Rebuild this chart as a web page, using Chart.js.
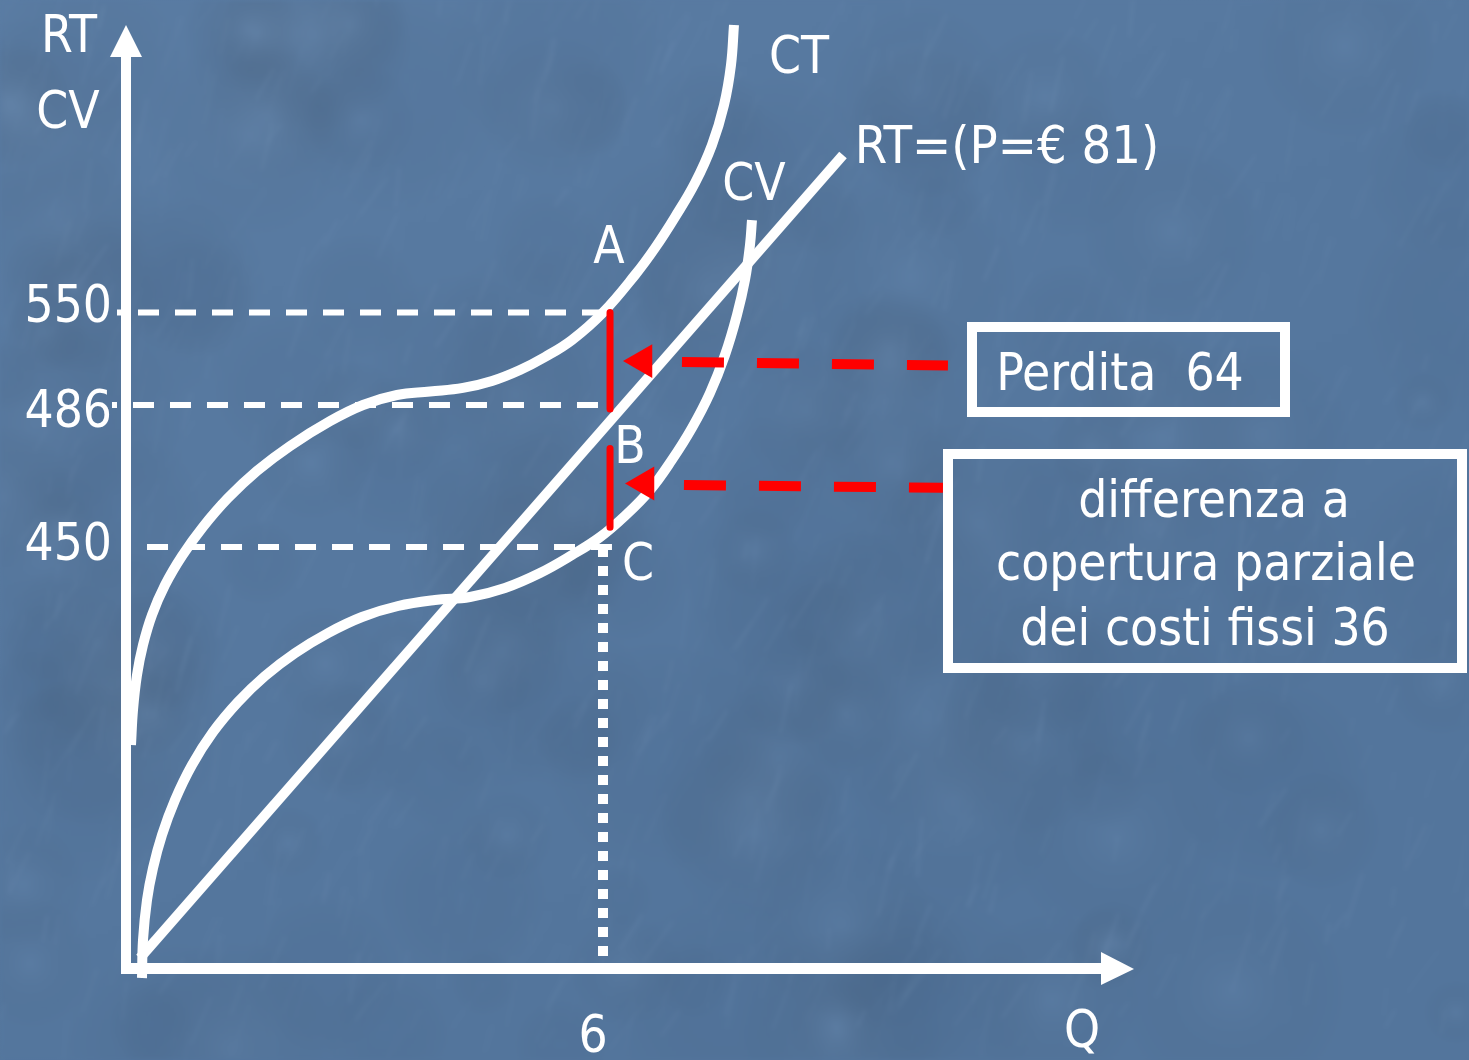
<!DOCTYPE html>
<html>
<head>
<meta charset="utf-8">
<title>RT, CT, CV</title>
<script src="https://cdn.jsdelivr.net/npm/chart.js@4/dist/chart.umd.min.js"></script>
<style>
  html, body { margin: 0; padding: 0; background: #55779f; overflow: hidden; }
  canvas { display: block; }
</style>
</head>
<body>
<canvas id="chart" width="1469" height="1060"></canvas>
<script>
// ---- Axis ticks ----
const quantityTicks = [6];
const valueTicks = [450, 486, 550];
const valueTickLabels = ['450', '486', '550'];

// ---- Total cost CT ----
const ctQ = [-0.1166, -0.0907, -0.0389, 0.0389, 0.1555, 0.3240, 0.5443, 0.8164, 1.1403, 1.5161,
             1.9438, 2.4621, 2.8897, 3.3303, 3.7579, 4.1856, 4.5614, 4.9242, 5.2482, 5.5981, 6.0,
             6.4144, 6.6736, 6.9328, 7.1919, 7.4122, 7.5677, 7.6584, 7.6973];
const ctV = [233.2, 271.5, 309.9, 342.7, 375.6, 408.4, 440.2, 455.1, 462.4, 469.3,
             475.6, 481.9, 486.0, 492.9, 495.3, 497.8, 502.6, 510.2, 519.2, 531.0, 550,
             582.6, 606.1, 633.0, 662.6, 695.7, 730.4, 765.2, 800];

// ---- Variable cost CV ----
const cvQ = [0.0259, 0.0389, 0.0907, 0.1685, 0.2851, 0.4535, 0.6738, 0.9460, 1.2699, 1.6198,
             2.0086, 2.4362, 2.8768, 3.3433, 3.8227, 4.2763, 4.7298, 5.1834, 5.5980, 5.9609,
             6.2848, 6.6088, 6.8939, 7.1530, 7.3863, 7.5807, 7.7362, 7.8398, 7.9046, 7.9305];
const cvV = [-22, 19.7, 63.5, 98.5, 134.7, 173.0, 211.3, 247.4, 280.3, 308.8,
             333.9, 355.8, 373.4, 385.4, 392.0, 395.3, 405.1, 421.5, 441.2, 452.5,
             457.9, 464.4, 472.1, 480.2, 494.3, 520.6, 548.3, 578.3, 608.7, 630.4];

// ---- Total revenue RT (P = 81) ----
const rtQ = [0, 9.11];
const rtV = [0, 687];

// ---- Reference levels at Q = 6 ----
const levelValues = [550, 486, 450];
const levelStartQ = [-0.298, -0.363, 0.091];
const levelEndQ = [6.091, 6.091, 6.116];
const outputQ = 6;
const outputLevel = 450;
const outputFloor = -11;

// ---- Gaps marked in red ----
const lossBarQ = 6.091;
const lossBar = [550, 485];
const coverBarQ = 6.091;
const coverBar = [475, 455];
const pointerStartQ = [7.023, 7.049];
const pointerEndQ = [10.47, 10.405];
const pointerStartV = [515.8, 465.7];
const pointerEndV = [513.3, 465.0];
const pointerTipQ = [6.512, 6.538];
const pointerTipV = [516.4, 466.1];

// ---- Value axis: broken linear scale, [value, fraction of axis height] ----
const valueAnchors = [[-11, 0], [0, 0.010604], [450, 0.446448], [486, 0.597031], [550, 0.695122], [800, 1]];
// vertical nudge (px) of each value tick label relative to its level
const valueLabelNudge = [0, 9, -4];

const FONT = '"DejaVu Sans Condensed", "DejaVu Sans", sans-serif';
const WHITE = '#ffffff';
const RED = '#ff0000';

class BrokenLinearScale extends Chart.LinearScale {
  static id = 'brokenLinear';
  _fraction(v) {
    const a = valueAnchors;
    let i = 1;
    while (i < a.length - 1 && v > a[i][0]) i++;
    const [v0, f0] = a[i - 1], [v1, f1] = a[i];
    return f0 + (v - v0) * (f1 - f0) / (v1 - v0);
  }
  getPixelForValue(v) {
    if (v === null || v === undefined || isNaN(v)) return NaN;
    return this.bottom - this._fraction(v) * (this.bottom - this.top);
  }
  getValueForPixel(p) {
    const a = valueAnchors;
    const f = (this.bottom - p) / (this.bottom - this.top);
    let i = 1;
    while (i < a.length - 1 && f > a[i][1]) i++;
    const [v0, f0] = a[i - 1], [v1, f1] = a[i];
    return v0 + (f - f0) * (v1 - v0) / (f1 - f0);
  }
}
Chart.register(BrokenLinearScale);

const pts = (qs, vs) => qs.map((q, i) => ({ x: q, y: vs[i] }));

// ---- Text placed on the drawing ----
const notes = [
  { text: 'RT', x: 69, y: 52 },
  { text: 'CV', x: 68, y: 128 },
  { text: 'CT', x: 799, y: 73 },
  { text: 'RT=(P=€ 81)', x: 1007, y: 163, size: 52 },
  { text: 'CV', x: 754, y: 200 },
  { text: 'A', x: 609, y: 263 },
  { text: 'B', x: 630, y: 463 },
  { text: 'C', x: 638, y: 580 },
  { text: 'Q', x: 1082, y: 1047 },
  { text: 'Perdita  64', x: 1120, y: 390 },
  { text: 'differenza a', x: 1214, y: 517 },
  { text: 'copertura parziale', x: 1206, y: 580 },
  { text: 'dei costi fissi 36', x: 1205, y: 645 }
];
const boxes = [
  { x: 972, y: 327, w: 313, h: 85 },
  { x: 948, y: 454, w: 514, h: 214 }
];

// Soft mottled blue backdrop, painted once off screen
function buildBackdrop(w, h) {
  const raw = document.createElement('canvas');
  raw.width = w; raw.height = h;
  const ctx = raw.getContext('2d');
  const g = ctx.createLinearGradient(0, 0, w * 0.35, h);
  g.addColorStop(0, '#5a7ca3');
  g.addColorStop(1, '#53759c');
  ctx.fillStyle = g;
  ctx.fillRect(0, 0, w, h);
  const hash = n => { const s = Math.sin(n * 12.9898) * 43758.5453; return s - Math.floor(s); };
  // broad soft patches
  for (let i = 0; i < 160; i++) {
    const x = hash(i + 3.1) * w, y = hash(i + 5.7) * h, r = 30 + hash(i + 7.3) * 90;
    const light = hash(i + 9.9) > 0.45;
    const rg = ctx.createRadialGradient(x, y, 0, x, y, r);
    rg.addColorStop(0, light ? 'rgba(140,170,205,0.09)' : 'rgba(60,90,130,0.07)');
    rg.addColorStop(1, 'rgba(0,0,0,0)');
    ctx.fillStyle = rg;
    ctx.fillRect(x - r, y - r, 2 * r, 2 * r);
  }
  // faint streaks
  ctx.lineCap = 'round';
  for (let i = 0; i < 1100; i++) {
    const x = hash(i + 0.1) * w, y = hash(i + 0.37) * h;
    const len = 15 + hash(i + 0.71) * 45;
    const ang = -0.9 - hash(i + 0.93) * 0.6;
    ctx.strokeStyle = `rgba(170,195,225,${0.03 + hash(i + 0.53) * 0.05})`;
    ctx.lineWidth = 1 + hash(i + 0.17) * 2.5;
    ctx.beginPath();
    ctx.moveTo(x, y);
    ctx.lineTo(x + Math.cos(ang) * len, y + Math.sin(ang) * len);
    ctx.stroke();
  }
  const soft = document.createElement('canvas');
  soft.width = w; soft.height = h;
  const sctx = soft.getContext('2d');
  sctx.fillStyle = g;
  sctx.fillRect(0, 0, w, h);
  sctx.filter = 'blur(2px)';
  sctx.drawImage(raw, 0, 0);
  return soft;
}
let backdropImage = null;

const backdrop = {
  id: 'backdrop',
  beforeDraw(chart) {
    if (!backdropImage) backdropImage = buildBackdrop(chart.width, chart.height);
    chart.ctx.drawImage(backdropImage, 0, 0);
  }
};

const frame = {
  id: 'frame',
  afterDatasetsDraw(chart) {
    const ctx = chart.ctx;
    const { left, right, top, bottom } = chart.chartArea;
    ctx.save();
    ctx.fillStyle = WHITE;
    // value axis with arrow head
    ctx.fillRect(left - 5, top + 30, 10, bottom + 6 - (top + 30));
    ctx.beginPath();
    ctx.moveTo(left, top);
    ctx.lineTo(left + 16, top + 32);
    ctx.lineTo(left - 16, top + 32);
    ctx.closePath();
    ctx.fill();
    // quantity axis with arrow head
    ctx.fillRect(left - 5, bottom - 5, right - 31 - (left - 5), 11);
    ctx.beginPath();
    ctx.moveTo(right, bottom + 1);
    ctx.lineTo(right - 33, bottom - 16);
    ctx.lineTo(right - 33, bottom + 17);
    ctx.closePath();
    ctx.fill();
    // framed notes
    ctx.strokeStyle = WHITE;
    ctx.lineWidth = 10;
    boxes.forEach(b => ctx.strokeRect(b.x, b.y, b.w, b.h));
    // text
    ctx.textAlign = 'center';
    ctx.textBaseline = 'alphabetic';
    notes.forEach(n => {
      ctx.font = `${n.size || 51}px ${FONT}`;
      ctx.fillText(n.text, n.x, n.y);
    });
    ctx.restore();
  }
};

const datasets = [
  // red gap bars
  { data: pts([lossBarQ, lossBarQ], lossBar), borderColor: RED, borderWidth: 7, order: 0 },
  { data: pts([coverBarQ, coverBarQ], coverBar), borderColor: RED, borderWidth: 7, order: 0 },
  // red dashed pointers and their heads
  ...pointerStartQ.map((q, i) => ({
    data: pts([q, pointerEndQ[i]], [pointerStartV[i], pointerEndV[i]]),
    borderColor: RED, borderWidth: 10, borderDash: [42, 33], order: 0
  })),
  {
    data: pts(pointerTipQ, pointerTipV), showLine: false,
    pointStyle: 'triangle', rotation: -90, pointRadius: 19.5,
    backgroundColor: RED, borderWidth: 0, pointBorderWidth: 0, order: 0
  },
  // cost and revenue curves
  { data: pts(ctQ, ctV), borderColor: WHITE, borderWidth: 10, tension: 0.4, order: 3, clip: false },
  { data: pts(cvQ, cvV), borderColor: WHITE, borderWidth: 10, tension: 0.4, order: 3, clip: false },
  { data: pts(rtQ, rtV), borderColor: WHITE, borderWidth: 10, tension: 0, order: 3 },
  // dashed reference levels
  ...levelValues.map((v, i) => ({
    data: pts([levelStartQ[i], levelEndQ[i]], [v, v]),
    borderColor: WHITE, borderWidth: 6, borderDash: [21, 16], borderDashOffset: i < 2 ? 16 : 0,
    order: 6, clip: false
  })),
  // dotted drop line at Q = 6
  {
    data: pts([outputQ, outputQ], [outputLevel, outputFloor]),
    borderColor: WHITE, borderWidth: 10, borderDash: [10, 9], order: 6
  }
];

new Chart(document.getElementById('chart'), {
  type: 'line',
  data: { datasets: datasets.map(d => Object.assign({ pointRadius: 0, fill: false, borderCapStyle: 'butt', borderJoinStyle: 'round' }, d)) },
  options: {
    responsive: false,
    animation: false,
    devicePixelRatio: 1,
    events: [],
    layout: { padding: { top: 25, right: 335, bottom: 0, left: 0 } },
    plugins: { legend: { display: false }, tooltip: { enabled: false } },
    scales: {
      x: {
        type: 'linear', min: -0.1814, max: 12.881,
        grid: { display: false, drawTicks: false }, border: { display: false },
        afterBuildTicks: s => { s.ticks = quantityTicks.map(v => ({ value: v })); },
        afterFit: s => { s.height = 92; s.paddingLeft = 0; s.paddingRight = 0; },
        ticks: {
          color: WHITE, font: { family: FONT, size: 51, lineHeight: 1.2 },
          padding: 40, labelOffset: -10, autoSkip: false, maxRotation: 0,
          callback: v => String(v)
        }
      },
      y: {
        type: 'brokenLinear', min: -11, max: 800,
        grid: { display: false, drawTicks: false }, border: { display: false },
        afterBuildTicks: s => { s.ticks = valueTicks.map(v => ({ value: v })); },
        afterFit: s => { s.width = 126; s.paddingTop = 0; s.paddingBottom = 0; },
        ticks: {
          color: WHITE,
          // a two-line label with one empty line moves the text by half a line
          font: c => {
            const n = Math.abs(valueLabelNudge[c.index] || 0);
            return { family: FONT, size: 51, lineHeight: n ? `${2 * n}px` : 1.2 };
          },
          padding: 14, autoSkip: false,
          callback: (v, i) => {
            const n = valueLabelNudge[i] || 0;
            const t = valueTickLabels[i];
            return n > 0 ? ['', t] : n < 0 ? [t, ''] : t;
          }
        }
      }
    }
  },
  plugins: [backdrop, frame]
});
</script>
</body>
</html>
